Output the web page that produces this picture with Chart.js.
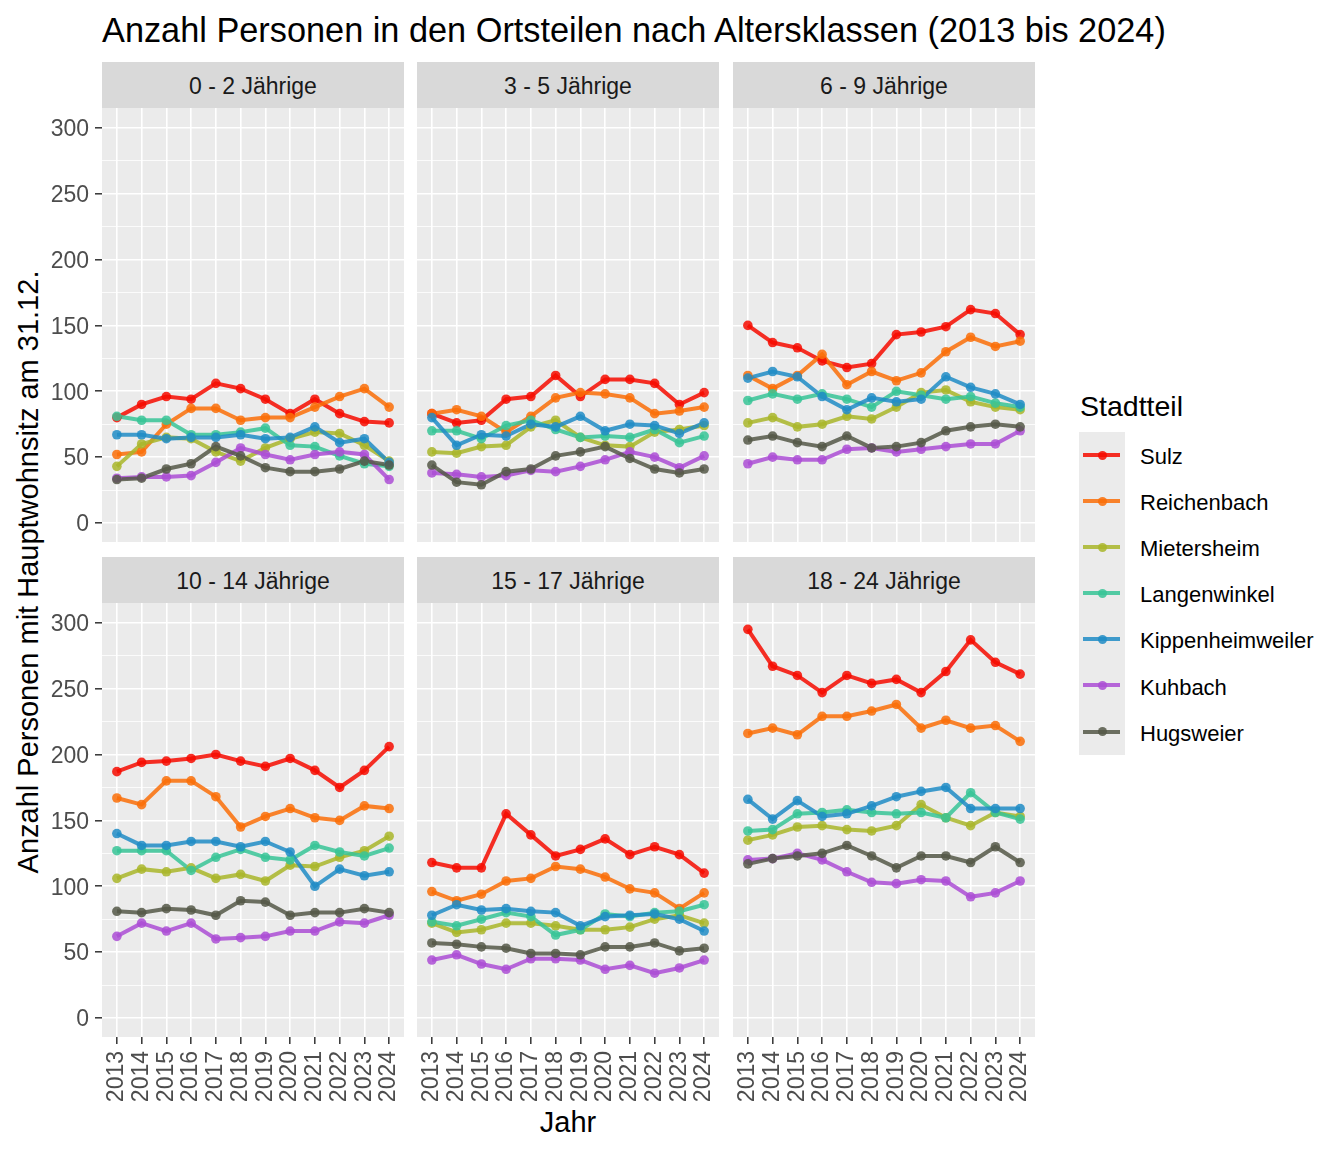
<!DOCTYPE html>
<html>
<head>
<meta charset="utf-8">
<script src="https://cdn.jsdelivr.net/npm/chart.js@4.4.1/dist/chart.umd.min.js"></script>
<style>
  body { margin: 0; background: #fff; font-family: "Liberation Sans", Arial, sans-serif; }
  #wrap { position: relative; width: 1344px; height: 1152px; overflow: hidden; }
  #wrap canvas { position: absolute; }
  .title { position: absolute; left: 102px; top: 10px; font-size: 34.3px; line-height: 40px; color: #000; white-space: nowrap; }
  .strip { position: absolute; background: #D9D9D9; color: #1A1A1A; font-size: 23px; display: flex; align-items: center; justify-content: center; padding-top: 3px; box-sizing: border-box; }
  .ytitle { position: absolute; left: 28px; top: 572px; font-size: 29px; white-space: nowrap; transform: translate(-50%, -50%) rotate(-90deg); }
  .xtitle { position: absolute; left: 568px; top: 1122px; font-size: 29px; transform: translate(-50%, -50%); }
  .legend-title { position: absolute; left: 1080px; top: 390px; font-size: 28.5px; line-height: 32px; }
  .legend-keys { position: absolute; left: 1079px; top: 432px; width: 46px; background: #EBEBEB; }
  .key { position: relative; width: 46px; height: 46.1px; }
  .key .ln { position: absolute; left: 4px; right: 5px; top: 21px; height: 4px; }
  .key .dot { position: absolute; left: 18.5px; top: 18.5px; width: 9px; height: 9px; border-radius: 50%; }
  .legend-label { position: absolute; left: 1140px; font-size: 22px; line-height: 46px; white-space: nowrap; }
</style>
</head>
<body>
<div id="wrap">
  <div class="title">Anzahl Personen in den Ortsteilen nach Altersklassen (2013 bis 2024)</div>
  <div class="ytitle">Anzahl Personen mit Hauptwohnsitz am 31.12.</div>
  <div class="xtitle">Jahr</div>
  <div class="legend-title">Stadtteil</div>
  <div class="legend-keys" id="keys"></div>
</div>
<script>
// categories
const years = [2013, 2014, 2015, 2016, 2017, 2018, 2019, 2020, 2021, 2022, 2023, 2024];
const districts = ['Sulz', 'Reichenbach', 'Mietersheim', 'Langenwinkel', 'Kippenheimweiler', 'Kuhbach', 'Hugsweier'];
const ageGroups = ['0 - 2 Jährige', '3 - 5 Jährige', '6 - 9 Jährige', '10 - 14 Jährige', '15 - 17 Jährige', '18 - 24 Jährige'];
const yBreaks = [0, 50, 100, 150, 200, 250, 300];
const yMinorBreaks = [25, 75, 125, 175, 225, 275];

// values per age group, rows in the order of districts
const age0to2 = [
  [80, 90, 96, 94, 106, 102, 94, 83, 94, 83, 77, 76],
  [52, 54, 75, 87, 87, 78, 80, 80, 88, 96, 102, 88],
  [43, 60, 65, 64, 54, 47, 57, 64, 69, 68, 59, 47],
  [81, 78, 78, 67, 67, 69, 72, 59, 58, 51, 45, 43],
  [67, 67, 64, 65, 65, 67, 64, 65, 73, 61, 64, 46],
  [34, 35, 35, 36, 46, 57, 52, 48, 52, 54, 52, 33],
  [33, 34, 41, 45, 58, 51, 42, 39, 39, 41, 47, 44]
];
const age3to5 = [
  [83, 76, 78, 94, 96, 112, 96, 109, 109, 106, 90, 99],
  [83, 86, 81, 69, 81, 95, 99, 98, 95, 83, 85, 88],
  [54, 53, 58, 59, 73, 78, 65, 59, 58, 69, 71, 74],
  [70, 70, 64, 74, 78, 71, 65, 66, 65, 71, 61, 66],
  [80, 59, 67, 66, 75, 73, 81, 70, 75, 74, 68, 76],
  [38, 37, 35, 36, 40, 39, 43, 48, 54, 50, 42, 51],
  [44, 31, 29, 39, 41, 51, 54, 58, 49, 41, 38, 41]
];
const age6to9 = [
  [150, 137, 133, 123, 118, 121, 143, 145, 149, 162, 159, 143],
  [112, 102, 112, 128, 105, 115, 108, 114, 130, 141, 134, 138],
  [76, 80, 73, 75, 81, 79, 88, 99, 101, 92, 88, 86],
  [93, 98, 94, 98, 94, 88, 100, 97, 94, 96, 91, 88],
  [110, 115, 111, 96, 86, 95, 92, 94, 111, 103, 98, 90],
  [45, 50, 48, 48, 56, 57, 54, 56, 58, 60, 60, 70],
  [63, 66, 61, 58, 66, 57, 58, 61, 70, 73, 75, 73]
];
const age10to14 = [
  [187, 194, 195, 197, 200, 195, 191, 197, 188, 175, 188, 206],
  [167, 162, 180, 180, 168, 145, 153, 159, 152, 150, 161, 159],
  [106, 113, 111, 114, 106, 109, 104, 116, 115, 122, 127, 138],
  [127, 127, 127, 112, 122, 128, 122, 120, 131, 126, 123, 129],
  [140, 131, 131, 134, 134, 130, 134, 126, 100, 113, 108, 111],
  [62, 72, 66, 72, 60, 61, 62, 66, 66, 73, 72, 78],
  [81, 80, 83, 82, 78, 89, 88, 78, 80, 80, 83, 80]
];
const age15to17 = [
  [118, 114, 114, 155, 139, 123, 128, 136, 124, 130, 124, 110],
  [96, 89, 94, 104, 106, 115, 113, 107, 98, 95, 83, 95],
  [72, 65, 67, 72, 72, 70, 67, 67, 69, 75, 78, 72],
  [73, 70, 75, 80, 77, 63, 67, 79, 77, 80, 81, 86],
  [78, 86, 82, 83, 81, 80, 70, 77, 78, 79, 75, 66],
  [44, 48, 41, 37, 45, 45, 44, 37, 40, 34, 38, 44],
  [57, 56, 54, 53, 49, 49, 48, 54, 54, 57, 51, 53]
];
const age18to24 = [
  [295, 267, 260, 247, 260, 254, 257, 247, 263, 287, 270, 261],
  [216, 220, 215, 229, 229, 233, 238, 220, 226, 220, 222, 210],
  [135, 139, 145, 146, 143, 142, 146, 162, 152, 146, 156, 153],
  [142, 143, 155, 156, 158, 156, 155, 156, 152, 171, 156, 151],
  [166, 151, 165, 153, 155, 161, 168, 172, 175, 159, 159, 159],
  [120, 121, 125, 120, 111, 103, 102, 105, 104, 92, 95, 104],
  [117, 121, 123, 125, 131, 123, 114, 123, 123, 118, 130, 118]
];
const panelValues = [age0to2, age3to5, age6to9, age10to14, age15to17, age18to24];

const colors = [
  'rgba(246, 12, 0, 0.85)',
  'rgba(250, 110, 8, 0.85)',
  'rgba(169, 182, 42, 0.85)',
  'rgba(55, 196, 150, 0.85)',
  'rgba(32, 140, 198, 0.85)',
  'rgba(172, 78, 213, 0.85)',
  'rgba(85, 88, 72, 0.85)'
];

// panel geometry
const colLeft = [102, 417, 733];
const rowTop = [108, 603];
const PANEL_W = 302;
const PANEL_H = 434;
const tickFont = { family: '"Liberation Sans", Arial, sans-serif', size: 23 };

const panelBg = {
  id: 'panelBg',
  beforeDraw(chart) {
    const { ctx, chartArea: a } = chart;
    ctx.save();
    ctx.fillStyle = '#EBEBEB';
    ctx.fillRect(a.left, a.top, a.right - a.left, a.bottom - a.top);
    ctx.restore();
  }
};

function noPad(s) {
  s.paddingLeft = 0; s.paddingRight = 0; s.paddingTop = 0; s.paddingBottom = 0;
}

const wrap = document.getElementById('wrap');

function makePanel(idx) {
  const row = Math.floor(idx / 3), col = idx % 3;
  const showY = col === 0, showX = row === 1;
  const padL = showY ? 100 : 0, padB = showX ? 80 : 0;

  const strip = document.createElement('div');
  strip.className = 'strip';
  strip.style.left = colLeft[col] + 'px';
  strip.style.top = (rowTop[row] - 46) + 'px';
  strip.style.width = PANEL_W + 'px';
  strip.style.height = '46px';
  strip.textContent = ageGroups[idx];
  wrap.appendChild(strip);

  const cv = document.createElement('canvas');
  cv.width = PANEL_W + padL;
  cv.height = PANEL_H + padB;
  cv.style.left = (colLeft[col] - padL) + 'px';
  cv.style.top = rowTop[row] + 'px';
  cv.style.width = (PANEL_W + padL) + 'px';
  cv.style.height = (PANEL_H + padB) + 'px';
  wrap.appendChild(cv);

  const vals = panelValues[idx];
  const datasets = [];
  districts.forEach((name, i) => {
    const pts = years.map((y, j) => ({ x: y, y: vals[i][j] }));
    datasets.push({
      label: name, data: pts, borderColor: colors[i], borderWidth: 4,
      pointRadius: 0, fill: false, tension: 0, order: 20 - i
    });
    datasets.push({
      label: name, data: pts, showLine: false, pointRadius: 4.8,
      pointBackgroundColor: colors[i], pointBorderWidth: 0, order: 10 - i
    });
  });

  new Chart(cv, {
    type: 'line',
    data: { datasets: datasets },
    options: {
      responsive: false,
      animation: false,
      events: [],
      layout: { padding: 0, autoPadding: false },
      plugins: { legend: { display: false }, tooltip: { enabled: false } },
      scales: {
        x: {
          type: 'linear', min: 2012.4, max: 2024.6,
          afterBuildTicks: s => { s.ticks = years.map(v => ({ value: v })); },
          afterFit: s => { s.height = padB; noPad(s); },
          border: { display: false },
          grid: { color: '#FFFFFF', lineWidth: 1.6, drawTicks: showX, tickLength: 7, tickColor: '#333333', tickWidth: 1.5 },
          ticks: {
            display: showX, autoSkip: false, minRotation: 90, maxRotation: 90, padding: 7,
            color: '#4D4D4D', font: tickFont, callback: v => String(v)
          }
        },
        y: {
          type: 'linear', min: -14.4, max: 315,
          afterBuildTicks: s => { s.ticks = yBreaks.concat(yMinorBreaks).sort((a, b) => a - b).map(v => ({ value: v })); },
          afterFit: s => { s.width = padL; noPad(s); },
          border: { display: false },
          grid: {
            color: '#FFFFFF',
            lineWidth: c => yBreaks.includes(c.tick.value) ? 1.6 : 0.8,
            drawTicks: showY, tickLength: 7, tickWidth: 1.5,
            tickColor: c => yBreaks.includes(c.tick.value) ? '#333333' : 'rgba(0,0,0,0)'
          },
          ticks: {
            display: showY, padding: 6, labelOffset: 2, color: '#4D4D4D', font: tickFont,
            callback: v => yBreaks.includes(v) ? String(v) : ''
          }
        }
      }
    },
    plugins: [panelBg]
  });
}

for (let i = 0; i < 6; i++) makePanel(i);

// legend
const keys = document.getElementById('keys');
districts.forEach((name, i) => {
  const k = document.createElement('div');
  k.className = 'key';
  k.innerHTML = '<div class="ln" style="background:' + colors[i] + '"></div><div class="dot" style="background:' + colors[i] + '"></div>';
  keys.appendChild(k);
  const lab = document.createElement('div');
  lab.className = 'legend-label';
  lab.style.top = (434 + i * 46.1) + 'px';
  lab.textContent = name;
  wrap.appendChild(lab);
});
</script>
</body>
</html>
